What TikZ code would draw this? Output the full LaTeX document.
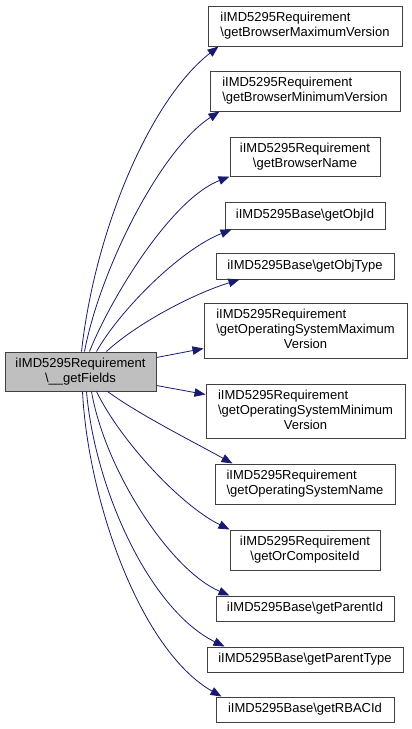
\documentclass[tikz,border=0pt]{standalone}
\usepackage{fontspec}
\setmainfont{Liberation Sans}
\usetikzlibrary{arrows.meta}
\definecolor{edgecol}{HTML}{191970}
\definecolor{mainfill}{HTML}{BFBFBF}
\begin{document}
\begin{tikzpicture}[x=1pt,y=-1pt,
  box/.style={draw=black!75, line width=1pt, inner sep=0pt, rectangle,
    font=\fontsize{13}{15}\selectfont},
  edge/.style={draw=edgecol, line width=0.8pt, -{Triangle[length=11pt,width=8.5pt]}}]
\useasboundingbox (0,0) rectangle (412,729);

\node[box, fill=mainfill, minimum width=151pt, minimum height=39pt, align=center] (main) at (80.5,371.5)
  {iIMD5295Requirement\\\textbackslash\_\_getFields};

\node[box, minimum width=194pt, minimum height=40pt, align=left] (b1) at (305,26)
  {iIMD5295Requirement\\\textbackslash getBrowserMaximumVersion};
\node[box, minimum width=190pt, minimum height=40pt, align=left] (b2) at (305,91)
  {iIMD5295Requirement\\\textbackslash getBrowserMinimumVersion};
\node[box, minimum width=150pt, minimum height=39pt, align=center] (b3) at (305,156.5)
  {iIMD5295Requirement\\\textbackslash getBrowserName};
\node[box, minimum width=160pt, minimum height=27pt] (b4) at (305,215.5)
  {iIMD5295Base\textbackslash getObjId};
\node[box, minimum width=178pt, minimum height=26pt] (b5) at (305,266)
  {iIMD5295Base\textbackslash getObjType};
\node[box, minimum width=203pt, minimum height=55pt] (b6) at (305.5,330.5)
  {\begin{tabular}{@{}l@{}}iIMD5295Requirement\\\textbackslash getOperatingSystemMaximum\\\multicolumn{1}{@{}c@{}}{Version}\end{tabular}};
\node[box, minimum width=199pt, minimum height=54pt] (b7) at (305.5,411)
  {\begin{tabular}{@{}l@{}}iIMD5295Requirement\\\textbackslash getOperatingSystemMinimum\\\multicolumn{1}{@{}c@{}}{Version}\end{tabular}};
\node[box, minimum width=180pt, minimum height=40pt, align=left] (b8) at (305,484)
  {iIMD5295Requirement\\\textbackslash getOperatingSystemName};
\node[box, minimum width=150pt, minimum height=40pt, align=center] (b9) at (305,550)
  {iIMD5295Requirement\\\textbackslash getOrCompositeId};
\node[box, minimum width=178pt, minimum height=25pt] (b10) at (305,608.5)
  {iIMD5295Base\textbackslash getParentId};
\node[box, minimum width=196pt, minimum height=25pt] (b11) at (305,659.5)
  {iIMD5295Base\textbackslash getParentType};
\node[box, minimum width=178pt, minimum height=25pt] (b12) at (305,709.5)
  {iIMD5295Base\textbackslash getRBACId};

\draw[edge] ([xshift=77pt]main.north west) .. controls (95,230) and (150,100) .. ([xshift=11pt]b1.south west);
\draw[edge] ([xshift=80pt]main.north west) .. controls (100,270) and (160,150) .. ([xshift=10pt]b2.south west);
\draw[edge] ([xshift=85pt]main.north west) .. controls (110,300) and (170,200) .. (b3.south west);
\draw[edge] ([xshift=92pt]main.north west) .. controls (120,310) and (180,250) .. ([xshift=7pt]b4.south west);
\draw[edge] ([xshift=102pt]main.north west) .. controls (135,325) and (190,295) .. ([xshift=24pt]b5.south west);
\draw[edge] ([yshift=14pt]main.east) -- ([yshift=10pt]b6.south west);
\draw[edge] ([yshift=-14pt]main.east) -- ([yshift=-11pt]b7.north west);
\draw[edge] ([xshift=103pt]main.south west) .. controls (140,415) and (190,440) .. ([xshift=18pt]b8.north west);
\draw[edge] ([xshift=92pt]main.south west) .. controls (120,440) and (180,505) .. (b9.north west);
\draw[edge] ([xshift=87pt]main.south west) .. controls (105,470) and (170,570) .. ([xshift=14pt]b10.north west);
\draw[edge] ([xshift=82pt]main.south west) .. controls (95,490) and (150,610) .. ([xshift=18pt]b11.north west);
\draw[edge] ([xshift=78pt]main.south west) .. controls (88,500) and (140,650) .. ([xshift=6pt]b12.north west);
\end{tikzpicture}
\end{document}
